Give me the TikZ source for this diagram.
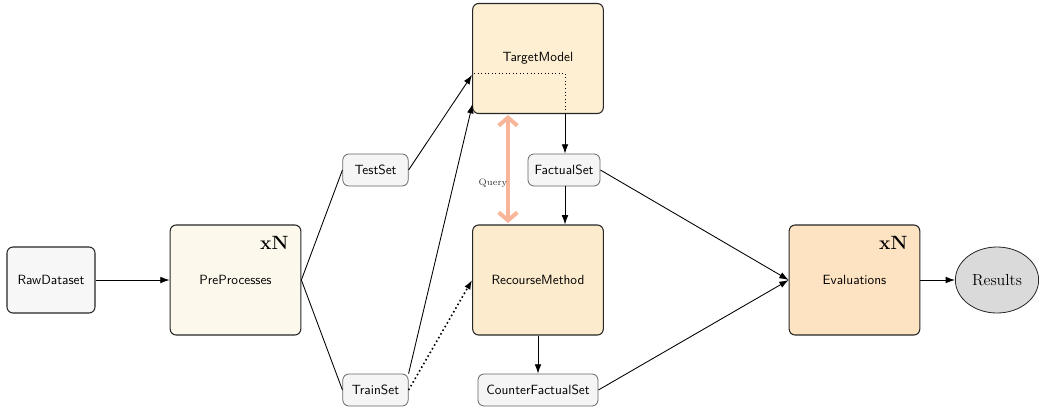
\documentclass[tikz,border=0pt]{standalone}
\usetikzlibrary{arrows.meta,calc,shapes.geometric}
\definecolor{rawfill}{HTML}{F7F7F7}
\definecolor{prefill}{HTML}{FDF8EC}
\definecolor{tmfill}{HTML}{FEEFD3}
\definecolor{rmfill}{HTML}{FDEBCD}
\definecolor{evfill}{HTML}{FDE3C1}
\definecolor{setfill}{HTML}{F5F5F5}
\definecolor{resfill}{HTML}{DADADA}
\definecolor{query}{HTML}{F8B59A}
\tikzset{
  bigbox/.style={draw=black!85, line width=0.8pt, rounded corners=4.5pt, minimum width=98pt, minimum height=82.5pt, font=\sffamily},
  midbox/.style={draw=black!85, line width=0.8pt, rounded corners=4.5pt, minimum width=66pt, minimum height=49.5pt, fill=rawfill, font=\sffamily},
  setbox/.style={draw=black!60, line width=0.6pt, rounded corners=4.5pt, minimum height=24pt, fill=setfill, font=\sffamily, inner xsep=3pt},
  conn/.style={line width=0.65pt, -{Latex[length=7pt,width=5pt]}},
  plain/.style={line width=0.65pt},
  xn/.style={font=\Large\bfseries, anchor=north east, inner sep=0pt}
}
\begin{document}
\begin{tikzpicture}[x=0.75pt,y=-0.75pt]
\useasboundingbox (0,0) rectangle (1039,408);
\node[midbox] (raw) at (51,280) {RawDataset};
\node[bigbox, fill=prefill] (pre) at (235.5,280) {PreProcesses};
\node[xn] (xn1) at ($(pre.north east)+(-9.5pt,-8.5pt)$) {xN};
\node[setbox, minimum width=49pt] (test) at (375.5,170) {TestSet};
\node[setbox, minimum width=49pt] (train) at (375.5,390) {TrainSet};
\node[bigbox, fill=tmfill] (tm) at (538,58.5) {TargetModel};
\node[setbox, minimum width=54pt] (fact) at (564,170) {FactualSet};
\node[bigbox, fill=rmfill] (rm) at (538,280) {RecourseMethod};
\node[setbox, minimum width=90pt] (cf) at (538,390) {CounterFactualSet};
\node[bigbox, fill=evfill] (ev) at (854.5,280) {Evaluations};
\node[xn] (xn2) at ($(ev.north east)+(-9.5pt,-8.5pt)$) {xN};
\node[ellipse, draw=black!85, line width=0.6pt, fill=resfill, minimum width=62pt, minimum height=49.5pt, font=\large] (res) at (997,280) {Results};

\draw[conn] (raw) -- (pre);
\draw[plain] (pre.east) -- (test.west);
\draw[plain] (pre.east) -- (train.west);
\draw[conn] (test.east) -- (472,75);
\draw[conn] (train.north east) -- (472.5,104);
\draw[line width=1.2pt, dotted, -{Latex[length=7pt,width=5pt]}] (train.east) -- (rm.west);

\coordinate (tmL) at (474,73);
\coordinate (tmC) at (565,73);
\coordinate (tmB) at (565,113);
\draw[line width=0.65pt, dotted] (tmL) -- (tmC) -- (tmB);
\draw[conn] (tmB) -- (tmB |- fact.north);
\draw[conn] (fact.south -| tmB) -- (tmB |- rm.north);
\draw[conn] (rm) -- (cf);
\draw[conn] (fact.east) -- (ev.west);
\draw[conn] (cf.east) -- (ev.west);
\draw[conn] (ev) -- (res);

\coordinate (qa) at (508,115);
\coordinate (qb) at (508,223);
\draw[query, line width=3pt, {Straight Barb[length=6pt,width=14pt]}-{Straight Barb[length=6pt,width=14pt]}] (qa) -- (qb);
\node[font=\scriptsize, text=black!80] (ql) at (493,183) {Query};
\end{tikzpicture}
\end{document}
